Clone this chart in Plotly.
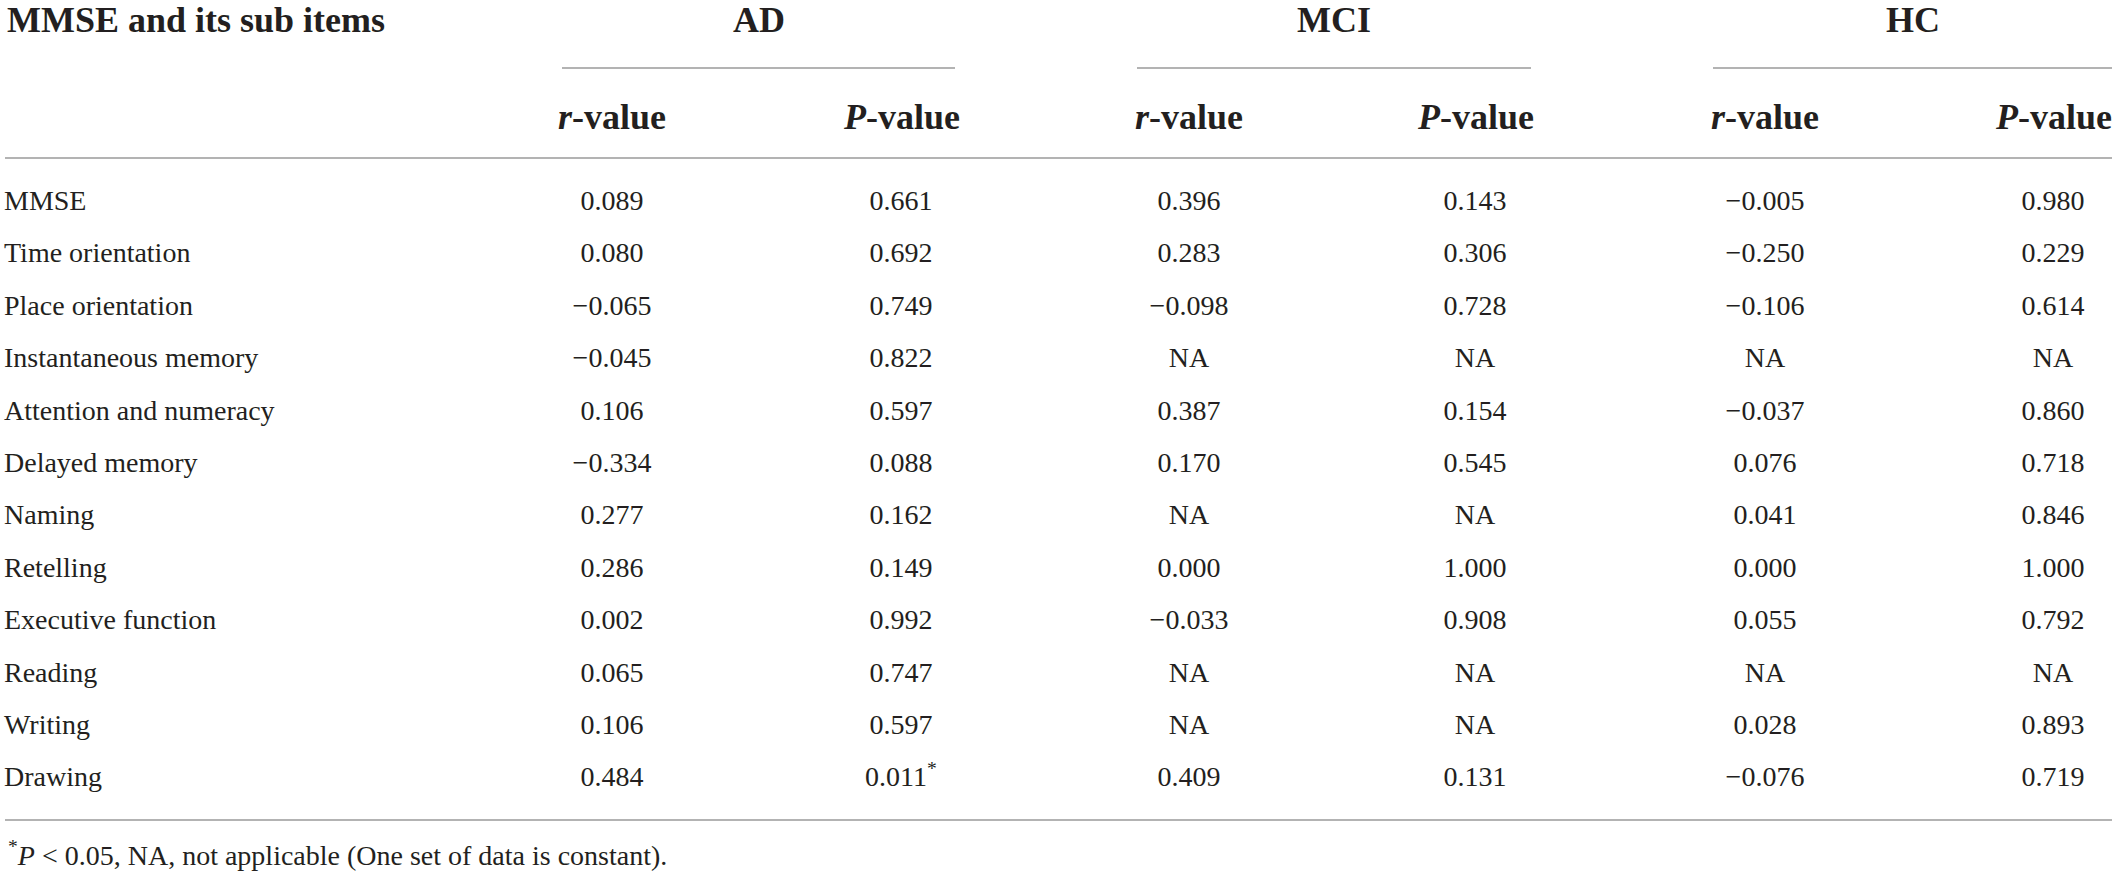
import plotly.graph_objects as go

# table content
items = ["MMSE", "Time orientation", "Place orientation", "Instantaneous memory",
         "Attention and numeracy", "Delayed memory", "Naming", "Retelling",
         "Executive function", "Reading", "Writing", "Drawing"]
groups = ["AD", "MCI", "HC"]
ad_r = ["0.089", "0.080", "−0.065", "−0.045", "0.106", "−0.334", "0.277", "0.286", "0.002", "0.065", "0.106", "0.484"]
ad_p = ["0.661", "0.692", "0.749", "0.822", "0.597", "0.088", "0.162", "0.149", "0.992", "0.747", "0.597", "0.011<sup>*</sup>"]
mci_r = ["0.396", "0.283", "−0.098", "NA", "0.387", "0.170", "NA", "0.000", "−0.033", "NA", "NA", "0.409"]
mci_p = ["0.143", "0.306", "0.728", "NA", "0.154", "0.545", "NA", "1.000", "0.908", "NA", "NA", "0.131"]
hc_r = ["−0.005", "−0.250", "−0.106", "NA", "−0.037", "0.076", "0.041", "0.000", "0.055", "NA", "0.028", "−0.076"]
hc_p = ["0.980", "0.229", "0.614", "NA", "0.860", "0.718", "0.846", "1.000", "0.792", "NA", "0.893", "0.719"]
footnote = "<sup>*</sup><i>P</i> < 0.05, NA, not applicable (One set of data is constant)."

W, H = 2117, 874
FONT = "Liberation Serif"
INK = "#231f20"
RULE = "#b3b3b3"

col_x = [612, 901, 1189, 1475, 1765, 2053]
group_x = [(562, 955), (1137, 1531), (1713, 2112)]
row_y = [203 + 52.4 * i for i in range(len(items))]

fig = go.Figure()

fig.add_trace(go.Scatter(x=[4] * len(items), y=row_y, text=items, mode="text",
                         textposition="middle right",
                         textfont=dict(family=FONT, size=28, color=INK),
                         hoverinfo="skip", showlegend=False))

cols = [ad_r, ad_p, mci_r, mci_p, hc_r, hc_p]
for cx, vals in zip(col_x, cols):
    fig.add_trace(go.Scatter(x=[cx] * len(vals), y=row_y, text=vals, mode="text",
                             textposition="middle center",
                             textfont=dict(family=FONT, size=28, color=INK),
                             hoverinfo="skip", showlegend=False))

hdr = dict(family=FONT, size=36, color=INK, weight="bold")
fig.add_annotation(x=5, y=20, text="MMSE and its sub items", xanchor="left",
                   yanchor="middle", showarrow=False, font=hdr)
for g, (x0, x1) in zip(groups, group_x):
    fig.add_annotation(x=(x0 + x1) / 2, y=20, text=g, showarrow=False,
                       yanchor="middle", font=hdr)
    fig.add_shape(type="line", x0=x0, x1=x1, y0=68, y1=68,
                  line=dict(color=RULE, width=2))
for i, cx in enumerate(col_x):
    label = "<i>r</i>-value" if i % 2 == 0 else "<i>P</i>-value"
    if i == len(col_x) - 1:
        # last header sits flush with the right rule end
        fig.add_annotation(x=2114, y=117, text=label, showarrow=False,
                           xanchor="right", yanchor="middle", font=hdr)
    else:
        fig.add_annotation(x=cx, y=117, text=label, showarrow=False,
                           yanchor="middle", font=hdr)

for yy in (158, 820):
    fig.add_shape(type="line", x0=5, x1=2112, y0=yy, y1=yy,
                  line=dict(color=RULE, width=2))

fig.add_annotation(x=6, y=873, text=footnote, xanchor="left", yanchor="bottom",
                   showarrow=False, font=dict(family=FONT, size=28, color=INK))

fig.update_layout(width=W, height=H, margin=dict(l=0, r=0, t=0, b=0),
                  paper_bgcolor="white", plot_bgcolor="white",
                  xaxis=dict(range=[0, W], visible=False, fixedrange=True),
                  yaxis=dict(range=[H, 0], visible=False, fixedrange=True))

# drop the default page margin so the figure fills the window exactly
fig.write_html("out.html", config={"displayModeBar": False},
               post_script="document.body.style.margin='0';"
                           "document.body.style.overflow='hidden';")
